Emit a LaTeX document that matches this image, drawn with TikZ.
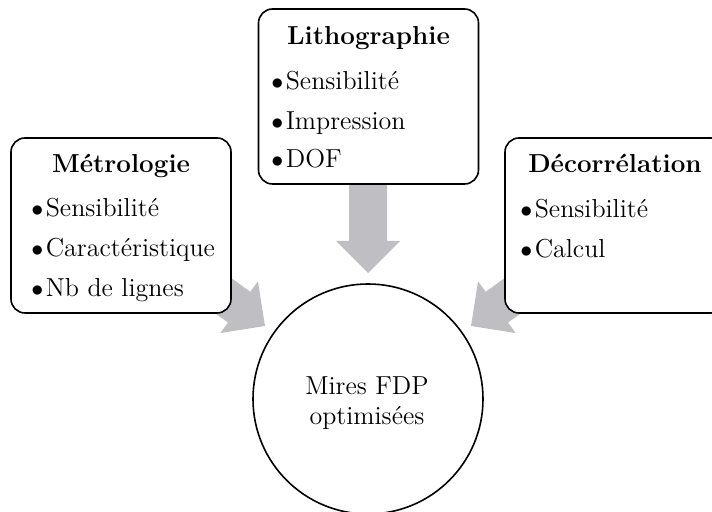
\documentclass[tikz,border=0pt]{standalone}
\usepackage{fontspec}
\usetikzlibrary{calc}
\definecolor{arrowgray}{RGB}{191,191,195}
\newcommand{\itembullet}{$\bullet$\hspace{1.2pt}}
\tikzset{
  panel/.style={draw, line width=0.8pt, rounded corners=7pt, fill=white,
    minimum width=110pt, minimum height=87.5pt, inner sep=0pt},
  paneltitle/.style={font=\fontsize{13}{15.6}\selectfont\bfseries, anchor=base, inner sep=0pt},
  paneltext/.style={font=\fontsize{13}{15.6}\selectfont, anchor=base west, inner sep=0pt},
  circletext/.style={font=\fontsize{13}{15.6}\selectfont, anchor=base, inner sep=0pt},
  target/.style={draw, circle, line width=0.8pt, minimum size=115pt, inner sep=0pt},
  fatarrow/.style={fill=arrowgray, draw=none},
}
\newcommand{\blockarrow}[2]{%
  \coordinate (#1-hb) at ($(#2)!16pt!(#1)$);
  \fill[fatarrow] ($(#1)!9.5pt!90:(#2)$) -- ($(#1-hb)!9.5pt!90:(#2)$)
    -- ($(#1-hb)!16pt!90:(#2)$) -- (#2) -- ($(#1-hb)!16pt!-90:(#2)$)
    -- ($(#1-hb)!9.5pt!-90:(#2)$) -- ($(#1)!9.5pt!-90:(#2)$) -- cycle;}
\begin{document}
\begin{tikzpicture}[x=0.5pt, y=-0.5pt]
  \useasboundingbox (0,0) rectangle (712,512);
  \clip (0,0) rectangle (712,512);
  % arrows (behind the panels)
  \coordinate (topS) at (368,170);
  \coordinate (topT) at (368,273);
  \coordinate (leftS) at (176,261.3);
  \coordinate (leftT) at (265,326);
  \coordinate (rightS) at (560,261.3);
  \coordinate (rightT) at (471,326);
  \blockarrow{topS}{topT}
  \blockarrow{leftS}{leftT}
  \blockarrow{rightS}{rightT}
  % panels
  \node[panel] (metro) at (121,225.5) {};
  \node[panel] (litho) at (368.5,96.5) {};
  \node[panel] (decor) at (615,225.5) {};
  % panel texts
  \node[paneltitle] (metroT) at (121,173) {Métrologie};
  \node[paneltext] (metro1) at (31,217) {\itembullet Sensibilité};
  \node[paneltext] (metro2) at (31,257) {\itembullet Caractéristique};
  \node[paneltext] (metro3) at (31,297) {\itembullet Nb de lignes};
  \node[paneltitle] (lithoT) at (368.5,45) {Lithographie};
  \node[paneltext] (litho1) at (271,90) {\itembullet Sensibilité};
  \node[paneltext] (litho2) at (271,129.5) {\itembullet Impression};
  \node[paneltext] (litho3) at (271,168) {\itembullet DOF};
  \node[paneltitle] (decorT) at (615,173) {Décorrélation};
  \node[paneltext] (decor1) at (520,218) {\itembullet Sensibilité};
  \node[paneltext] (decor2) at (520,258) {\itembullet Calcul};
  % target circle
  \node[target] (mires) at (368,399) {};
  \node[circletext] (mires1) at (367,395) {Mires FDP};
  \node[circletext] (mires2) at (367,424.5) {optimisées};
\end{tikzpicture}
\end{document}
